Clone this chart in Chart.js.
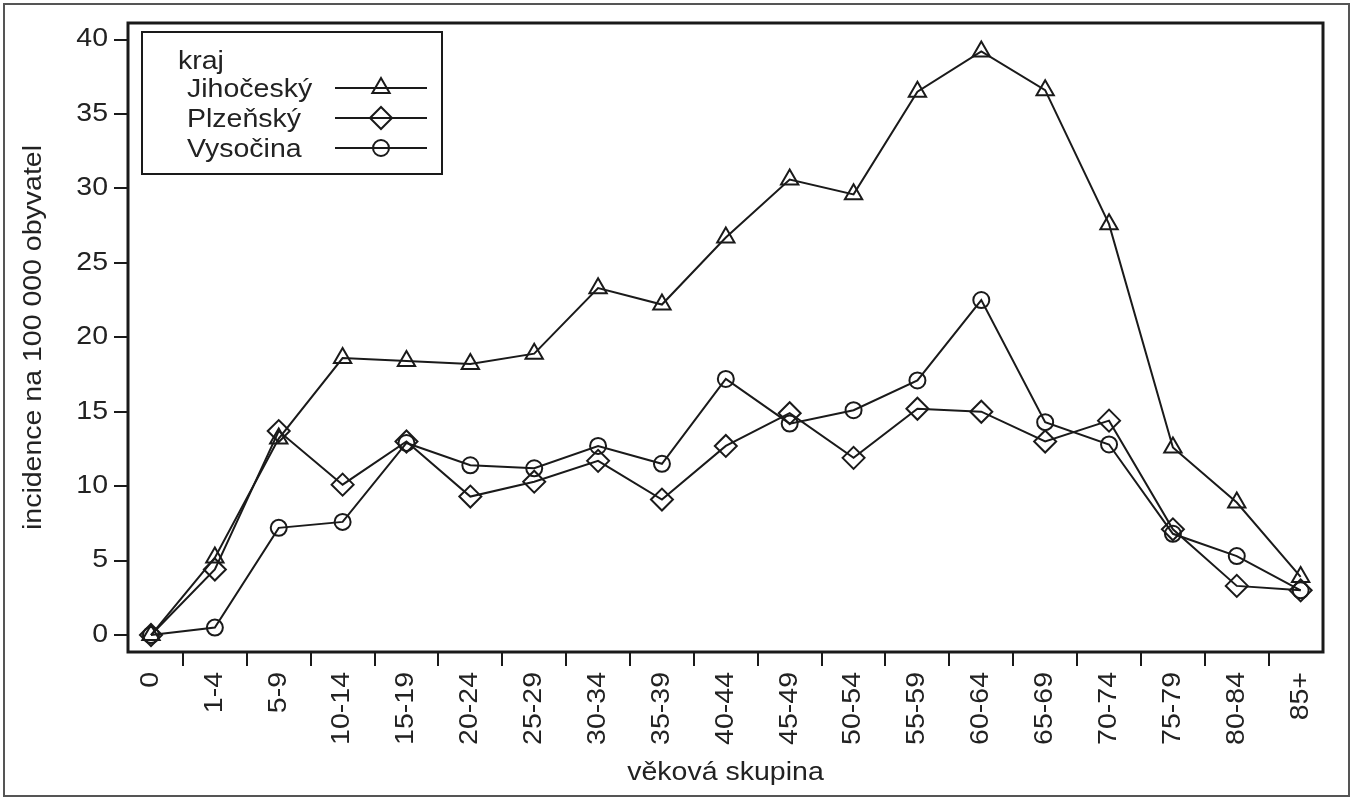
<!DOCTYPE html>
<html>
<head>
<meta charset="utf-8">
<script src="https://cdn.jsdelivr.net/npm/chart.js@4/dist/chart.umd.min.js"></script>
<style>
  html, body { margin: 0; padding: 0; background: #fff; }
  #wrap { width: 1354px; height: 800px; }
</style>
</head>
<body>
<div id="wrap"><canvas id="chart" width="1354" height="800"></canvas></div>
<script>
// age groups and incidence per 100 000 inhabitants
const ageGroups = ['0', '1-4', '5-9', '10-14', '15-19', '20-24', '25-29', '30-34', '35-39',
  '40-44', '45-49', '50-54', '55-59', '60-64', '65-69', '70-74', '75-79', '80-84', '85+'];
const jihocesky = [0, 5.2, 13.2, 18.6, 18.4, 18.2, 18.9, 23.3, 22.2, 26.7, 30.6, 29.6, 36.5, 39.2, 36.6, 27.6, 12.6, 8.9, 3.9];
const plzensky = [0, 4.4, 13.7, 10.1, 13.0, 9.3, 10.3, 11.7, 9.1, 12.7, 14.9, 11.9, 15.2, 15.0, 13.0, 14.4, 7.1, 3.3, 3.0];
const vysocina = [0, 0.5, 7.2, 7.6, 12.9, 11.4, 11.2, 12.7, 11.5, 17.2, 14.2, 15.1, 17.1, 22.5, 14.3, 12.8, 6.8, 5.3, 3.0];
const yTickValues = [0, 5, 10, 15, 20, 25, 30, 35, 40];

const FONT = '"Liberation Sans", Arial, sans-serif';
const INK = '#1a1a1a';
const STRETCH = 1.14; // the original lettering is a horizontally wider Helvetica

const toPoints = arr => arr.map((v, i) => ({ x: i, y: v }));

// widen every glyph run along its own baseline, and tell the layout about it
function stretchText(ctx) {
  if (ctx._stretched) return;
  ctx._stretched = true;
  const fill = ctx.fillText.bind(ctx);
  const measure = ctx.measureText.bind(ctx);
  ctx.fillText = function (text, x, y, maxWidth) {
    ctx.save();
    ctx.translate(x, y);
    ctx.scale(STRETCH, 1);
    if (maxWidth !== undefined) fill(text, 0, 0, maxWidth / STRETCH);
    else fill(text, 0, 0);
    ctx.restore();
  };
  ctx.measureText = function (text) {
    const m = measure(text);
    return { width: m.width * STRETCH, actualBoundingBoxAscent: m.actualBoundingBoxAscent, actualBoundingBoxDescent: m.actualBoundingBoxDescent };
  };
}

// plot frame, outer border and the "kraj" legend
const framePlugin = {
  id: 'frame',
  beforeLayout(chart) {
    stretchText(chart.ctx);
  },
  beforeDraw(chart) {
    const ctx = chart.ctx;
    ctx.save();
    ctx.fillStyle = '#fff';
    ctx.fillRect(0, 0, chart.width, chart.height);
    ctx.strokeStyle = '#555';
    ctx.lineWidth = 2;
    ctx.strokeRect(4, 4, chart.width - 9, chart.height - 8);
    ctx.restore();
  },
  afterDraw(chart) {
    const { ctx, chartArea: a } = chart;
    ctx.save();
    ctx.strokeStyle = INK;
    ctx.lineWidth = 3;
    ctx.strokeRect(a.left, a.top, a.right - a.left, a.bottom - a.top);

    const bx = a.left + 14, by = a.top + 9, bw = 300, bh = 142;
    ctx.fillStyle = '#fff';
    ctx.fillRect(bx, by, bw, bh);
    ctx.lineWidth = 2;
    ctx.strokeRect(bx, by, bw, bh);

    ctx.font = '25px ' + FONT;
    ctx.fillStyle = '#222';
    ctx.textBaseline = 'middle';
    ctx.textAlign = 'left';
    ctx.fillText('kraj', bx + 36, by + 30);
    chart.data.datasets.forEach((ds, i) => {
      const y = by + 56 + i * 30;
      ctx.fillStyle = '#222';
      ctx.fillText(ds.label, bx + 45, y + 2);
      ctx.beginPath();
      ctx.moveTo(bx + 193, y);
      ctx.lineTo(bx + 285, y);
      ctx.lineWidth = 2;
      ctx.strokeStyle = INK;
      ctx.stroke();
      ctx.fillStyle = 'rgba(0,0,0,0)';
      Chart.helpers.drawPoint(ctx, { pointStyle: ds.pointStyle, radius: ds.pointRadius, borderWidth: 2, rotation: 0 }, bx + 239, y);
    });
    ctx.restore();
  }
};

function series(label, values, style, radius) {
  return {
    label: label,
    data: toPoints(values),
    borderColor: INK,
    borderWidth: 2,
    tension: 0,
    pointStyle: style,
    pointRadius: radius,
    pointHoverRadius: radius,
    pointBorderWidth: 2,
    pointBorderColor: INK,
    pointBackgroundColor: 'rgba(0,0,0,0)'
  };
}

new Chart(document.getElementById('chart'), {
  type: 'line',
  data: {
    datasets: [
      series('Jihočeský', jihocesky, 'triangle', 10),
      series('Plzeňský', plzensky, 'rectRot', 11),
      series('Vysočina', vysocina, 'circle', 8)
    ]
  },
  plugins: [framePlugin],
  options: {
    responsive: false,
    animation: false,
    layout: { padding: { left: 0, top: 23, right: 31, bottom: 0 } },
    plugins: { legend: { display: false }, tooltip: { enabled: false } },
    scales: {
      x: {
        type: 'linear',
        min: -0.36,
        max: 18.35,
        afterBuildTicks: s => { s.ticks = ageGroups.map((_, i) => ({ value: i })); },
        afterFit: s => { s.height = 148; },
        ticks: {
          autoSkip: false,
          minRotation: 90,
          maxRotation: 90,
          padding: 6,
          color: '#222',
          font: { family: FONT, size: 25 },
          callback: v => ageGroups[v]
        },
        grid: { offset: true, drawOnChartArea: false, tickLength: 14, color: INK, lineWidth: 2 },
        border: { display: false },
        title: {
          display: true,
          text: 'věková skupina',
          color: '#222',
          font: { family: FONT, size: 25 },
          padding: { top: 0, bottom: 12 }
        }
      },
      y: {
        min: -1.14,
        max: 41.11,
        afterBuildTicks: s => { s.ticks = yTickValues.map(v => ({ value: v })); },
        afterFit: s => { s.width = 128; },
        ticks: {
          padding: 6,
          color: '#222',
          font: { family: FONT, size: 25 }
        },
        grid: { drawOnChartArea: false, tickLength: 14, color: INK, lineWidth: 2 },
        border: { display: false },
        title: {
          display: true,
          text: 'incidence na 100 000 obyvatel',
          color: '#222',
          font: { family: FONT, size: 25 },
          padding: { top: 19, bottom: 0 }
        }
      }
    }
  }
});
</script>
</body>
</html>
